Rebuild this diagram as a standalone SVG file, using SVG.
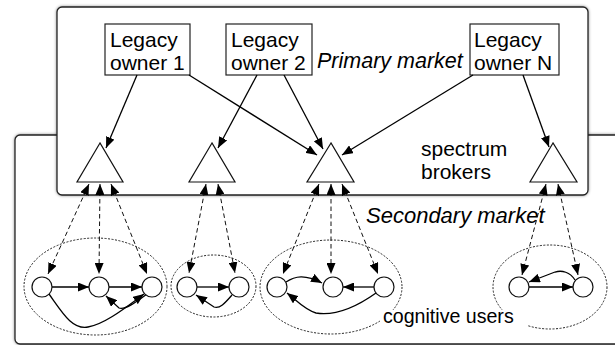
<svg xmlns="http://www.w3.org/2000/svg" width="615" height="345" viewBox="0 0 615 345">
<style>
text{font-family:"Liberation Sans",Arial,sans-serif;fill:#000}
.lbl{font-size:21px}
.it{font-style:italic}
.box{fill:#fff;stroke:#222;stroke-width:1.2}
.frame{fill:#fff;stroke:#222;stroke-width:1.3;filter:url(#sh)}
.tri{fill:#fff;stroke:#111;stroke-width:1.2}
.cir{fill:#fff;stroke:#111;stroke-width:1.2}
.ell{fill:none;stroke:#222;stroke-width:1;stroke-dasharray:2 1.5}
.sol{fill:none;stroke:#000;stroke-width:1.3;marker-end:url(#ah)}
.dash{fill:none;stroke:#111;stroke-width:1;stroke-dasharray:4.5 3;marker-start:url(#ah);marker-end:url(#ah)}
</style>
<defs>
<marker id="ah" markerUnits="userSpaceOnUse" markerWidth="12" markerHeight="9" refX="11" refY="4.5" orient="auto-start-reverse">
<path d="M0,0 L11,4.5 L0,9 Z" fill="#000"/>
</marker>
<filter id="sh" x="-5%" y="-5%" width="110%" height="110%">
<feDropShadow dx="0" dy="0" stdDeviation="1.5" flood-color="#000" flood-opacity="0.45"/>
</filter>
</defs>

<g id="secondary-frame"><rect class="frame" x="15" y="135" width="650" height="209" rx="5"/></g>
<g id="primary-frame"><rect class="frame" x="57" y="7" width="531" height="188" rx="5"/></g>

<g id="lo1"><rect class="box" x="105" y="24" width="85" height="51"/><text class="lbl" x="110" y="47">Legacy</text><text class="lbl" x="110" y="70">owner 1</text></g>
<g id="lo2"><rect class="box" x="226" y="24" width="86" height="51"/><text class="lbl" x="231" y="47">Legacy</text><text class="lbl" x="231" y="70">owner 2</text></g>
<g id="lon"><rect class="box" x="470" y="24" width="89" height="51"/><text class="lbl" x="474" y="47">Legacy</text><text class="lbl" x="474" y="70">owner N</text></g>

<g id="primary-label"><text class="lbl it" x="317" y="68" style="font-size:21.5px">Primary market</text></g>
<g id="brokers-label"><text class="lbl" x="421" y="156">spectrum</text><text class="lbl" x="421" y="179">brokers</text></g>
<g id="secondary-label"><text class="lbl it" x="366" y="223" style="font-size:22px">Secondary market</text></g>

<g id="t1"><polygon class="tri" points="100,143 77,182 123,182"/></g>
<g id="t2"><polygon class="tri" points="212,143 189,182 235,182"/></g>
<g id="t3"><polygon class="tri" points="331,143 307,182 354,182"/></g>
<g id="t4"><polygon class="tri" points="553,143 530,182 577,182"/></g>

<g id="groups">
<ellipse class="ell" cx="95.5" cy="286.5" rx="71.5" ry="48.5"/>
<ellipse class="ell" cx="213.5" cy="286" rx="42.5" ry="31"/>
<ellipse class="ell" cx="331" cy="287" rx="71" ry="47"/>
<ellipse class="ell" cx="550" cy="287" rx="57" ry="42"/>
</g>

<g id="users-label"><rect x="380" y="310" width="148" height="24" fill="#fff"/><text x="383" y="323" style="font-size:19.6px">cognitive users</text></g>

<g id="connectors">
<path class="sol" d="M137,75 L106,148"/>
<path class="sol" d="M189,75 L317,155"/>
<path class="sol" d="M257,75 L218,148"/>
<path class="sol" d="M284,75 L323,149"/>
<path class="sol" d="M473,75 L342,155"/>
<path class="sol" d="M523,75 L549,147"/>

<path class="dash" d="M89,184 L48,274"/>
<path class="dash" d="M100,184 L99,274"/>
<path class="dash" d="M111,184 L147,274"/>
<path class="dash" d="M206,184 L189,273"/>
<path class="dash" d="M218,184 L235,273"/>
<path class="dash" d="M319,184 L283,274"/>
<path class="dash" d="M331,184 L331,274"/>
<path class="dash" d="M342,184 L378,274"/>
<path class="dash" d="M546,184 L522,275"/>
<path class="dash" d="M558,184 L578,275"/>

<path class="sol" d="M52,287 L89,287"/>
<path class="sol" d="M109,287 L142,287"/>
<path class="sol" d="M49,294 C62,312 72,330 88,327 C105,324 125,308 144,294"/>
<path class="sol" d="M147,294 C135,303 125,310 119,308 L106,296"/>

<path class="sol" d="M197,287 L229,287"/>
<path class="sol" d="M232,295 C225,303 220,309 214,307 L196,295"/>

<path class="sol" d="M286,282 C295,276 305,274 322,283"/>
<path class="sol" d="M374,287 L343,287"/>
<path class="sol" d="M376,293 C355,308 335,316 316,313 C305,310 296,300 287,293"/>

<path class="sol" d="M529,287 L573,287"/>
<path class="sol" d="M575,280 C570,272 562,270 555,272 L529,282"/>
</g>

<g id="users">
<circle class="cir" cx="42" cy="287" r="10"/>
<circle class="cir" cx="99" cy="287" r="10"/>
<circle class="cir" cx="152" cy="287" r="10"/>
<circle class="cir" cx="187" cy="287" r="10"/>
<circle class="cir" cx="239" cy="287" r="10"/>
<circle class="cir" cx="277" cy="287" r="10"/>
<circle class="cir" cx="333" cy="287" r="10"/>
<circle class="cir" cx="384" cy="287" r="10"/>
<circle class="cir" cx="519" cy="287" r="10"/>
<circle class="cir" cx="583" cy="287" r="10"/>
</g>
</svg>
